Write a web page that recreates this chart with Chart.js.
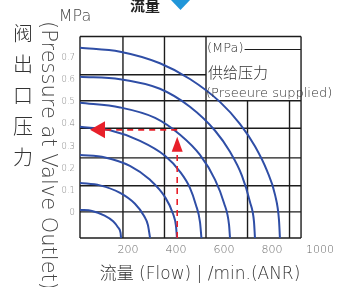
<!DOCTYPE html>
<html><head><meta charset="utf-8">
<script src="https://cdn.jsdelivr.net/npm/chart.js@4.4.1/dist/chart.umd.min.js"></script>
<style>html,body{margin:0;padding:0;background:#fff;}canvas{display:block;}</style>
</head><body>
<canvas id="c" width="340" height="287"></canvas>
<script>
// ---- data (flow in l/min ANR, pressure in MPa) ----
const xTickValues = [200, 400, 600, 800, 1000];
const xTickLabels = ['200', '400', '600', '800', '1000'];
const yTickValues = [0, 0.1, 0.2, 0.3, 0.4, 0.5, 0.6, 0.7];
const yTickLabels = ['0', '0.1', '0.2', '0.3', '0.4', '0.5', '0.6', '0.7'];
const xRange = [0, 1000];
const yRange = [-0.113, 0.7945];
const gridFlows = [0, 179, 352, 525, 698, 873, 921];
const gridPressures = [0.7945, 0.622, 0.505, 0.381, 0.248, 0.122, 0.0045, -0.113];
const legendBoxFlows = [525, 921];
const legendBoxPressures = [0.505, 0.7945];
const supplyLabels = ['0.7', '0.6', '0.5', '0.4', '0.3', '0.2', '0.1'];
const flow07 = [0, 167, 333, 458, 583, 667, 729, 779, 813, 829, 833];
const pout07 = [0.744, 0.726, 0.674, 0.603, 0.5, 0.4, 0.3, 0.19, 0.08, -0.03, -0.113];
const flow06 = [0, 167, 333, 458, 563, 625, 675, 708, 725, 729];
const pout06 = [0.613, 0.602, 0.559, 0.478, 0.37, 0.275, 0.167, 0.05, -0.04, -0.113];
const flow05 = [0, 167, 313, 417, 500, 563, 600, 621, 625];
const pout05 = [0.496, 0.475, 0.428, 0.352, 0.261, 0.149, 0.045, -0.054, -0.113];
const flow04 = [0, 125, 250, 354, 417, 458, 483, 500, 506];
const pout04 = [0.388, 0.372, 0.324, 0.257, 0.185, 0.113, 0.036, -0.041, -0.113];
const flow03 = [0, 104, 208, 292, 354, 388, 400, 404];
const pout03 = [0.261, 0.25, 0.212, 0.149, 0.072, -0.005, -0.059, -0.113];
const flow02 = [0, 83, 167, 229, 267, 283, 292];
const pout02 = [0.135, 0.124, 0.09, 0.041, -0.014, -0.054, -0.113];
const flow01 = [0, 50, 100, 138, 158, 169, 171];
const pout01 = [0.0135, 0.009, -0.011, -0.038, -0.065, -0.09, -0.113];
const exampleFlow = 405;
const examplePressure = 0.374;

const curveFlows = [flow07, flow06, flow05, flow04, flow03, flow02, flow01];
const curvePouts = [pout07, pout06, pout05, pout04, pout03, pout02, pout01];

const FONT = "'DejaVu Sans', 'Noto Sans CJK SC', sans-serif";
const CJK = "'Noto Sans CJK SC', 'DejaVu Sans', sans-serif";

const datasets = supplyLabels.map((lab, i) => ({
  label: lab,
  data: curveFlows[i].map((f, j) => ({x: f, y: curvePouts[i][j]})),
  borderColor: '#2f4ea6',
  borderWidth: 2,
  pointRadius: 0,
  cubicInterpolationMode: 'monotone',
  fill: false
}));

const gridPlugin = {
  id: 'gridPlugin',
  beforeDatasetsDraw(chart) {
    const {ctx} = chart; const xs = chart.scales.x, ys = chart.scales.y;
    const top = ys.getPixelForValue(gridPressures[0]);
    const bottom = ys.getPixelForValue(gridPressures[gridPressures.length - 1]);
    const left = xs.getPixelForValue(gridFlows[0]);
    const right = xs.getPixelForValue(gridFlows[gridFlows.length - 1]);
    const bx0 = xs.getPixelForValue(legendBoxFlows[0]);
    const bx1 = xs.getPixelForValue(legendBoxFlows[1]);
    const byB = ys.getPixelForValue(legendBoxPressures[0]);
    const byT = ys.getPixelForValue(legendBoxPressures[1]);
    ctx.save();
    ctx.strokeStyle = '#1c1c1c'; ctx.lineWidth = 1.4;
    gridFlows.forEach(f => {
      const px = xs.getPixelForValue(f);
      const y0 = (px > bx0 + 0.5 && px < bx1 - 0.5) ? byB : top;
      ctx.beginPath(); ctx.moveTo(px, y0); ctx.lineTo(px, bottom); ctx.stroke();
    });
    gridPressures.forEach(p => {
      const py = ys.getPixelForValue(p);
      const x1 = (py > byT + 0.5 && py < byB - 0.5) ? bx0 : right;
      ctx.beginPath(); ctx.moveTo(left, py); ctx.lineTo(x1, py); ctx.stroke();
    });
    ctx.restore();
  }
};

const arrowPlugin = {
  id: 'arrowPlugin',
  afterDatasetsDraw(chart) {
    const {ctx} = chart; const xs = chart.scales.x, ys = chart.scales.y;
    const px = xs.getPixelForValue(exampleFlow), py = ys.getPixelForValue(examplePressure);
    const left = xs.getPixelForValue(xRange[0]), bottom = ys.getPixelForValue(yRange[0]);
    ctx.save();
    ctx.strokeStyle = '#e8202a'; ctx.fillStyle = '#e8202a'; ctx.lineWidth = 1.6;
    ctx.setLineDash([6, 5]);
    ctx.beginPath(); ctx.moveTo(px, py); ctx.lineTo(left + 24, py); ctx.stroke();
    ctx.beginPath(); ctx.moveTo(px, bottom); ctx.lineTo(px, py + 22); ctx.stroke();
    ctx.setLineDash([]);
    ctx.beginPath(); ctx.moveTo(left + 10, py); ctx.lineTo(left + 25, py - 8.5); ctx.lineTo(left + 25, py + 8.5); ctx.closePath(); ctx.fill();
    ctx.beginPath(); ctx.moveTo(px, py + 7); ctx.lineTo(px - 5.5, py + 22); ctx.lineTo(px + 5.5, py + 22); ctx.closePath(); ctx.fill();
    ctx.restore();
  }
};

const textPlugin = {
  id: 'textPlugin',
  afterDraw(chart) {
    const {ctx} = chart; const xs = chart.scales.x;
    const right = xs.getPixelForValue(gridFlows[gridFlows.length - 1]);
    const bx0 = xs.getPixelForValue(legendBoxFlows[0]);
    ctx.save();
    // top label & marker
    ctx.fillStyle = '#222'; ctx.font = "bold 15px " + CJK; ctx.textBaseline = 'middle'; ctx.textAlign = 'left';
    ctx.fillText('流量', 130, 5);
    ctx.fillStyle = '#2196d9';
    ctx.beginPath(); ctx.moveTo(170, -1); ctx.lineTo(191, -1); ctx.lineTo(180.5, 10); ctx.closePath(); ctx.fill();
    // MPa unit
    ctx.fillStyle = '#444'; ctx.font = "200 16px " + FONT; ctx.textAlign = 'center';
    ctx.fillText('MPa', 75, 17);
    // Chinese vertical title
    ctx.fillStyle = '#333'; ctx.font = "300 20px " + CJK;
    ['阀', '出', '口', '压', '力'].forEach((ch, i) => ctx.fillText(ch, 23, 33 + i * 31));
    // rotated english title
    ctx.save();
    ctx.translate(42, 21); ctx.rotate(Math.PI / 2);
    ctx.textAlign = 'left'; ctx.textBaseline = 'alphabetic';
    ctx.fillStyle = '#444'; ctx.font = "200 21px " + FONT;
    ctx.fillText('(Pressure at Valve Outlet)', 0, 0);
    ctx.restore();
    // legend box texts
    ctx.textAlign = 'left'; ctx.textBaseline = 'middle'; ctx.fillStyle = '#333';
    ctx.font = "200 13px " + FONT;
    ctx.fillText('(MPa)', bx0 + 1, 48.5);
    const w = ctx.measureText('(MPa)').width;
    ctx.strokeStyle = '#1c1c1c'; ctx.lineWidth = 1.2;
    ctx.beginPath(); ctx.moveTo(bx0 + 2 + w, 49.5); ctx.lineTo(right, 49.5); ctx.stroke();
    ctx.font = "300 15px " + CJK;
    ctx.fillText('供给压力', bx0 + 2, 72.5);
    ctx.font = "200 13px " + FONT;
    ctx.fillText('(Prseeure supplied)', bx0, 94);
    ctx.restore();
  }
};

new Chart(document.getElementById('c'), {
  type: 'line',
  data: {datasets},
  options: {
    responsive: false, animation: false, devicePixelRatio: 1,
    layout: {padding: {top: 36.5, right: 20, left: 0, bottom: 0}},
    plugins: {legend: {display: false}, tooltip: {enabled: false}},
    scales: {
      x: {
        type: 'linear', min: xRange[0], max: xRange[1],
        grid: {display: false, drawTicks: false}, border: {display: false},
        afterBuildTicks: s => { s.ticks = xTickValues.map(v => ({value: v})); },
        afterFit: s => { s.height = 49; },
        ticks: {padding: 6, color: '#666', autoSkip: false, maxRotation: 0,
          font: {family: FONT, size: 11, weight: '200'},
          callback: v => xTickLabels[xTickValues.indexOf(v)]},
        title: {display: true, text: '流量 (Flow) | /min.(ANR)', color: '#333',
          font: {family: FONT, size: 17, weight: '200'}, padding: {top: 0, bottom: 2}}
      },
      y: {
        type: 'linear', min: yRange[0], max: yRange[1],
        grid: {display: false, drawTicks: false}, border: {display: false},
        afterBuildTicks: s => { s.ticks = yTickValues.map(v => ({value: v})); },
        afterFit: s => { s.width = 80; },
        ticks: {padding: 5, color: '#888', autoSkip: false,
          font: {family: FONT, size: 8.5, weight: '200'},
          callback: v => yTickLabels[yTickValues.indexOf(v)]}
      }
    }
  },
  plugins: [gridPlugin, arrowPlugin, textPlugin]
});
</script>
</body></html>
